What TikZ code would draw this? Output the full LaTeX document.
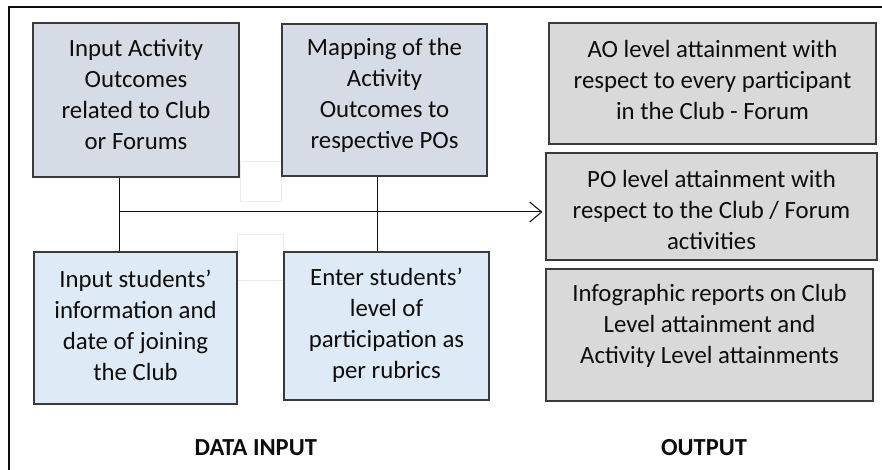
\documentclass[tikz,border=0pt]{standalone}
\usepackage{fontspec}
\setmainfont{Carlito}
\usetikzlibrary{arrows.meta}
\definecolor{inA}{HTML}{D6DCE5}
\definecolor{inB}{HTML}{DEEBF7}
\definecolor{outC}{HTML}{D9D9D9}
\definecolor{edgec}{HTML}{3A3A3A}
\definecolor{ink}{HTML}{0D0D0D}
\definecolor{ghost}{HTML}{EBEBEB}
\begin{document}
\begin{tikzpicture}[x=1pt,y=-1pt,
  box/.style={draw=edgec,line width=1.1pt,inner sep=0pt},
  txt/.style={font=\fontsize{24.8}{31}\selectfont,align=center,text=ink,inner sep=0pt},
  ttl/.style={font=\fontsize{24.5}{29}\selectfont\bfseries,text=ink,inner sep=0pt},
  wire/.style={draw=ink,line width=1pt},
  faint/.style={draw=ghost,line width=1pt}]
\useasboundingbox (0,0) rectangle (882,470);
% outer frame (left and top sides only)
\draw[ink,line width=2pt] (9,471) -- (9,7) -- (883,7);
% faint squares
\draw[faint] (240,162) rectangle (281,202);
\draw[faint] (237,234) rectangle (283,280);
% input boxes
\node[box,fill=inA,minimum width=206pt,minimum height=154pt] (b1) at (136,100) {};
\node[box,fill=inA,minimum width=205pt,minimum height=152pt] (b2) at (384.5,100) {};
\node[box,fill=inB,minimum width=203pt,minimum height=152pt] (b3) at (135.5,328) {};
\node[box,fill=inB,minimum width=205pt,minimum height=148pt] (b4) at (386.5,326) {};
% output boxes
\node[box,fill=outC,minimum width=327pt,minimum height=121pt] (o1) at (712.5,83.5) {};
\node[box,fill=outC,minimum width=331pt,minimum height=107pt] (o2) at (711.5,206.5) {};
\node[box,fill=outC,minimum width=327pt,minimum height=132pt] (o3) at (709.5,335) {};
% texts
\node[txt] (t1) at (136,95) {Input Activity\\Outcomes\\related to Club\\or Forums};
\node[txt] (t2) at (384.5,95) {Mapping of the\\Activity\\Outcomes to\\respective POs};
\node[txt] (t3) at (135.5,325) {Input students’\\information and\\date of joining\\the Club};
\node[txt] (t4) at (386.5,325) {Enter students’\\level of\\participation as\\per rubrics};
\node[txt] (t5) at (712.5,79.5) {AO level attainment with\\respect to every participant\\in the Club - Forum};
\node[txt] (t6) at (711.5,210) {PO level attainment with\\respect to the Club / Forum\\activities};
\node[txt] (t7) at (709.5,325.5) {Infographic reports on Club\\Level attainment and\\Activity Level attainments};
\node[ttl] (h1) at (255.8,448) {DATA INPUT};
\node[ttl] (h2) at (704,448) {OUTPUT};
% connectors
\coordinate (j1) at (119,212);
\coordinate (j2) at (377,212);
\draw[wire] (b1.south -| j1) -- (b3.north -| j1);
\draw[wire] (b2.south -| j2) -- (b4.north -| j2);
\draw[wire,-{Straight Barb[length=12pt,width=20pt,line width=1pt]},shorten >=3pt] (j1) -- (o2.west |- j1);
\end{tikzpicture}
\end{document}
